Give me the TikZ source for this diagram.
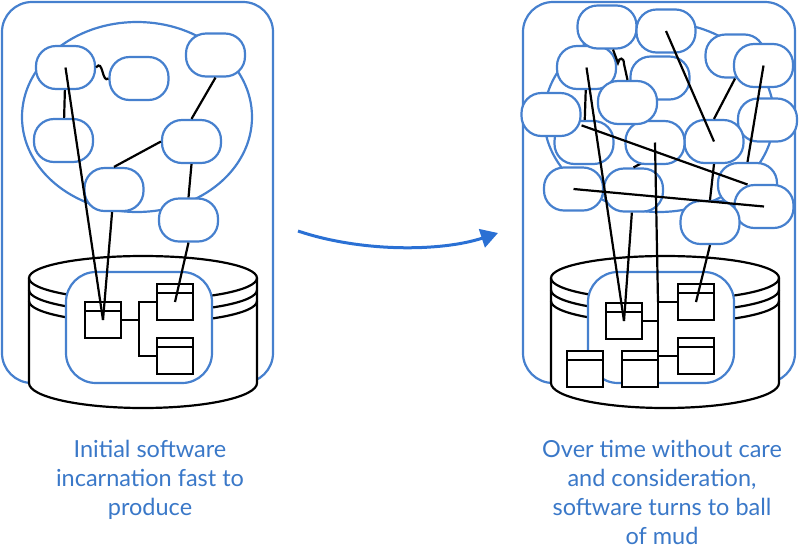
\documentclass[tikz,border=0pt]{standalone}
\usepackage{fontspec}
\setmainfont{Lato}
\usetikzlibrary{arrows.meta}
\definecolor{mudblue}{RGB}{70,128,206}
\definecolor{capblue}{RGB}{58,120,200}
\definecolor{arrowblue}{RGB}{42,112,212}
\def\drum(#1,#2){%
  \draw[line width=\lw,fill=white] (#1,#2) -- ++(0,105) arc[start angle=180,end angle=0,x radius=114,y radius=25] -- ++(0,-105) arc[start angle=0,end angle=-180,x radius=114,y radius=22] -- cycle;
  \foreach \dy in {0,12,23} \draw[line width=\lw] (#1,#2+\dy) arc[start angle=180,end angle=0,x radius=114,y radius=22];
}

\begin{document}
\begin{tikzpicture}[x=1pt,y=-1pt,
    blob/.style={draw=mudblue,fill=white,line width=\lw,rounded corners=20pt,minimum width=59pt,minimum height=43pt,inner sep=0pt},
    tablebox/.style={draw,fill=white,line width=\lw,minimum size=36pt,inner sep=0pt,
      path picture={\draw[line width=\lw] ([yshift=-9pt]path picture bounding box.north west) -- ([yshift=-9pt]path picture bounding box.north east);}},
    core/.style={draw=mudblue,fill=white,line width=\lw,rounded corners=30pt,minimum width=146pt,minimum height=111pt},
    frame/.style={draw=mudblue,line width=\lw,rounded corners=30pt},
    wire/.style={line width=\lw},
    caption/.style={text=capblue,align=center,inner sep=0pt,anchor=north,font=\fontsize{23.5}{29}\selectfont},
    flow/.style={draw=arrowblue,line width=3pt,-{Triangle[length=17pt,width=19pt]}}]
	%%%%% START %%%%%
	\def\lw{2.2pt}
	\useasboundingbox (0,0) rectangle (800,550);

	%%%%% first incarnation %%%%%
	\draw[frame] (2,2) rectangle (273,383);
	\draw[frame] (137,117) ellipse[x radius=115,y radius=95];

	\node[blob] (lA) at (65.5,67.5) {};
	\node[blob] (lB) at (139,78.5) {};
	\node[blob] (lC) at (215.5,55) {};
	\node[blob] (lD) at (63.5,140.5) {};
	\node[blob] (lE) at (191.5,141.5) {};
	\node[blob] (lF) at (114,189.5) {};
	\node[blob] (lG) at (188.5,220) {};

	\draw[wire] (lA) -- (lD);
	\draw[wire] (lA.east) .. controls (103,58) and (102,84) .. (lB.west);
	\draw[wire] (lC.south) -- (lE.north);
	\draw[wire] (lE.west) -- (lF.north);
	\draw[wire] (lE.south) -- (lG.north);

	\drum(29,278)
	\node[core] (lcore) at (139,327.5) {};
	\node[tablebox] (lt1) at (103,320) {};
	\node[tablebox] (lt2) at (175,302) {};
	\node[tablebox] (lt3) at (175,356) {};
	\coordinate (ljn) at (139,320);
	\draw[wire] (lt1.east) -- (ljn);
	\draw[wire] (lt2.west) -| (ljn);
	\draw[wire] (lt3.west) -| (ljn);

	\draw[wire] (lA.center) -- (lt1.center);
	\draw[wire] (lF) -- (lt1.center);
	\draw[wire] (lG.south) -- (lt2.center);

	%%%%% ball of mud %%%%%
	\draw[frame] (523,2) rectangle (795,383);
	\draw[frame] (659,117) ellipse[x radius=115,y radius=95];

	\node[blob] (r9) at (767.5,120) {};
	\node[blob] (r12) at (714,141.5) {};
	\node[blob] (r14) at (633.5,190) {};
	\draw[wire] (r12.west) -- (r14.north);
	\node[blob] (r11) at (655,142.5) {};
	\node[blob] (r3) at (735,56) {};
	\draw[wire] (r3.south) -- (r12.north);
	\node[blob] (r4) at (763.5,65.5) {};
	\node[blob] (r5) at (586.5,67.5) {};
	\node[blob] (r1) at (607,27) {};
	\node[blob] (r2) at (666,31) {};
	\node[blob] (r6) at (660,78) {};
	\node[blob] (r7) at (627.5,102.5) {};
	\node[blob] (r10) at (584,142.5) {};
	\node[blob] (r8) at (551,114.5) {};
	\node[blob] (r13) at (573.5,189) {};
	\node[blob] (r15) at (747.5,184.5) {};
	\node[blob] (r16) at (764,206.5) {};
	\node[blob] (r17) at (710,222.5) {};

	\draw[wire] (r5) -- (r10);
	\draw[wire] ([xshift=6pt]r1.south) -- (618,63) .. controls (619,57) and (624,57) .. (624,64) -- (r7.north);
	\draw[wire] (r12.south) -- (r17.north);

	\drum(551,278)
	\node[core] (rcore) at (661,327.5) {};
	\node[tablebox] (rt1) at (624,321) {};
	\node[tablebox] (rt2) at (696,302) {};
	\node[tablebox] (rt3) at (696,356) {};
	\node[tablebox] (rt4) at (585,369) {};
	\node[tablebox] (rt5) at (640,369) {};
	\coordinate (rjn) at (658,321);
	\coordinate (rtop) at (rjn|-rt2.west);
	\draw[wire] (rt1.east) -- (rjn);
	\draw[wire] (rt2.west) -| (rjn);
	\draw[wire] (rt3.west) -| (rjn);

	\draw[wire] (r5.center) -- (rt1.center);
	\draw[wire] (r14) -- (rt1.center);
	\draw[wire] (r17.south) -- (rt2.center);
	\draw[wire] (r2.center) -- (r12.center);
	\draw[wire] (r4.center) -- (r15.north);
	\draw[wire] (r8) -- (r15.center);
	\draw[wire] (r13.center) -- (r16.center);
	\draw[wire] (r11.center) -- (rtop);

	%%%%% arrow and captions %%%%%
	\coordinate (go) at (298,231);
	\coordinate (done) at (498,233);
	\draw[flow] (go) .. controls (360,252) and (440,252) .. (done);

	\node[caption] (lcap) at (150,440) {Initial software\\incarnation fast to\\produce};
	\node[caption] (rcap) at (662,440) {Over time without care\\and consideration,\\software turns to ball\\of mud};
	%%%%% START %%%%%
\end{tikzpicture}
\end{document}
